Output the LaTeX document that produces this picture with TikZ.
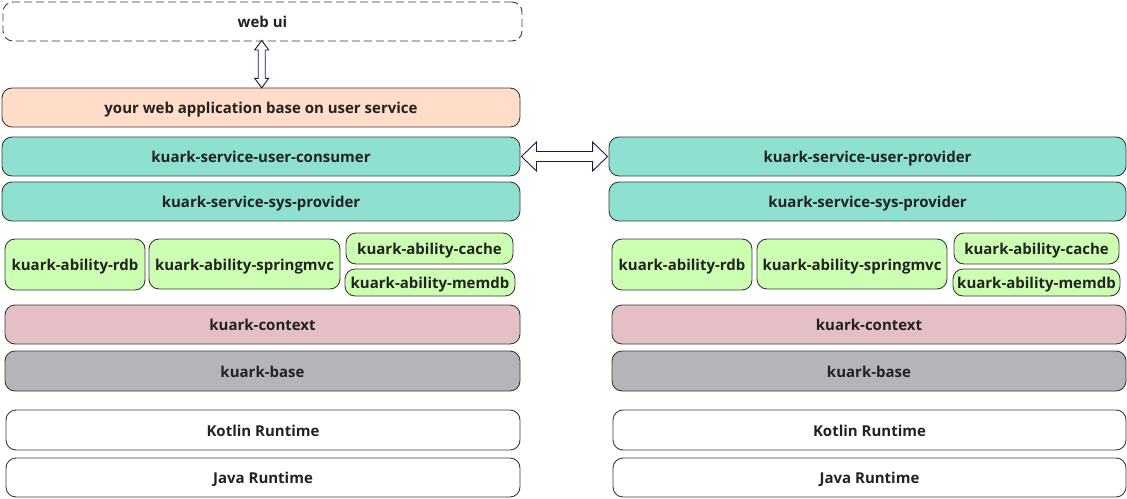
\documentclass[tikz,border=0pt]{standalone}
\usepackage{fontspec}
\setmainfont{Open Sans}
\usetikzlibrary{calc}
\definecolor{peach}{HTML}{FFDDC9}
\definecolor{teal}{HTML}{8EE0D1}
\definecolor{lgreen}{HTML}{CCFFB2}
\definecolor{pinkc}{HTML}{E4BFC5}
\definecolor{grayc}{HTML}{B5B4B9}
\definecolor{edge}{HTML}{3A3A3A}
\definecolor{navy}{HTML}{1A1A40}
\definecolor{txt}{HTML}{222222}
\tikzset{
  box/.style={draw=edge, line width=0.9pt, rounded corners=10pt, inner sep=0pt,
    text=txt, text height=12pt, text depth=0pt, font=\bfseries\fontsize{15}{18}\selectfont},
  dbl/.style={draw=navy, line width=0.9pt, fill=white, line join=miter},
}
\begin{document}
\begin{tikzpicture}[x=1pt,y=-1pt]
\useasboundingbox (0,0) rectangle (1127,498);
% top
\node[box, dashed, dash pattern=on 8pt off 4pt, minimum width=519pt, minimum height=39pt] (webui) at (262.5,21.5) {web ui};
\node[box, fill=peach, minimum width=518pt, minimum height=39pt] (app) at (261,107.5) {your web application base on user service};
% services
\node[box, fill=teal, minimum width=518pt, minimum height=39pt] (cons) at (261,156.5) {kuark-service-user-consumer};
\node[box, fill=teal, minimum width=518pt, minimum height=39pt] (sysL) at (261,201.5) {kuark-service-sys-provider};
\node[box, fill=teal, minimum width=517pt, minimum height=39pt] (prov) at (867.5,156.5) {kuark-service-user-provider};
\node[box, fill=teal, minimum width=517pt, minimum height=39pt] (sysR) at (867.5,201.5) {kuark-service-sys-provider};
% abilities left
\node[box, fill=lgreen, minimum width=140pt, minimum height=51pt] (rdbL) at (75,264.5) {kuark-ability-rdb};
\node[box, fill=lgreen, minimum width=191pt, minimum height=50pt] (mvcL) at (244.5,264) {kuark-ability-springmvc};
\node[box, fill=lgreen, minimum width=167pt, minimum height=31pt] (cacheL) at (429.5,248.5) {kuark-ability-cache};
\node[box, fill=lgreen, minimum width=170pt, minimum height=27pt] (memdbL) at (430,282.5) {kuark-ability-memdb};
% abilities right
\node[box, fill=lgreen, minimum width=140pt, minimum height=51pt] (rdbR) at (682,264.5) {kuark-ability-rdb};
\node[box, fill=lgreen, minimum width=190pt, minimum height=50pt] (mvcR) at (852,264) {kuark-ability-springmvc};
\node[box, fill=lgreen, minimum width=165pt, minimum height=31pt] (cacheR) at (1036.5,248.5) {kuark-ability-cache};
\node[box, fill=lgreen, minimum width=167pt, minimum height=27pt] (memdbR) at (1036.5,282.5) {kuark-ability-memdb};
% context / base
\node[box, fill=pinkc, minimum width=515pt, minimum height=39pt] (ctxL) at (262.5,324.5) {kuark-context};
\node[box, fill=grayc, minimum width=515pt, minimum height=40pt] (baseL) at (262.5,371) {kuark-base};
\node[box, fill=pinkc, minimum width=514pt, minimum height=39pt] (ctxR) at (869,324.5) {kuark-context};
\node[box, fill=grayc, minimum width=514pt, minimum height=40pt] (baseR) at (869,371) {kuark-base};
% runtimes
\node[box, fill=white, minimum width=514pt, minimum height=40pt] (kotL) at (263,430) {Kotlin Runtime};
\node[box, fill=white, minimum width=514pt, minimum height=39pt] (javaL) at (263,477.5) {Java Runtime};
\node[box, fill=white, minimum width=513pt, minimum height=40pt] (kotR) at (869.5,430) {Kotlin Runtime};
\node[box, fill=white, minimum width=513pt, minimum height=39pt] (javaR) at (869.5,477.5) {Java Runtime};
% vertical double arrow
\coordinate (vt) at ($(webui.south)+(-0.8,-1)$);
\coordinate (vb) at ($(app.north)+(0.7,0.3)$);
\draw[dbl] (vt) -- ++(7,9.5) -- ++(-3.5,0) |- ($(vb)+(3.5,-9.5)$) -- ++(3.5,0) -- (vb)
  -- ++(-7,-9.5) -- ++(3.5,0) |- ($(vt)+(-3.5,9.5)$) -- ++(-3.5,0) -- cycle;
% horizontal double arrow
\coordinate (hl) at ($(cons.east)+(1,0)$);
\coordinate (hr) at ($(prov.west)+(-1,0)$);
\draw[dbl] (hl) -- ++(15,-14.5) -- ++(0,9.5) -| ($(hr)+(-15,-14.5)$) -- (hr)
  -- ++(-15,14.5) -- ++(0,-9.5) -| ($(hl)+(15,14.5)$) -- cycle;
\end{tikzpicture}
\end{document}
